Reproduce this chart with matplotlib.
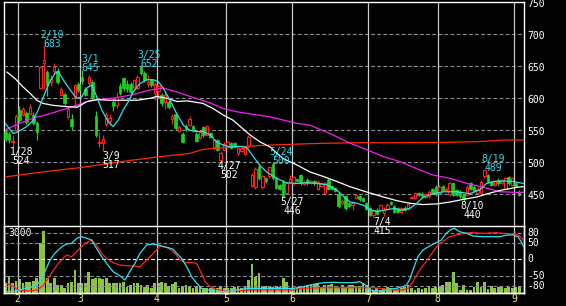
import matplotlib
matplotlib.use("Agg")
import matplotlib.pyplot as plt
import numpy as np

# ---------------- data ----------------
# daily candles (index 0 = first visible trading day, late January)
opens = [548, 545, 532, 550, 582, 574, 577, 576, 574, 561, 616, 655, 641, 625, 642, 642, 605, 606, 571, 567,
         600, 622, 634, 614, 624, 625, 572, 530, 530, 560, 565, 594, 590, 620, 631, 622, 623, 617, 616, 649,
         639, 622, 628, 609, 612, 605, 595, 595, 568, 576, 549, 545, 557, 558, 557, 545, 538, 555, 543, 546,
         524, 535, 504, 519, 524, 530, 530, 514, 518, 513, 525, 463, 461, 492, 462, 475, 478, 498, 475, 464,
         470, 452, 470, 467, 474, 480, 466, 473, 468, 471, 459, 463, 452, 473, 463, 460, 451, 436, 447, 436,
         433, 444, 447, 444, 436, 428, 418, 426, 426, 421, 427, 438, 431, 428, 423, 429, 427, 444, 445, 452,
         451, 446, 447, 458, 462, 452, 463, 457, 450, 467, 457, 454, 449, 449, 467, 462, 452, 452, 478, 480,
         469, 465, 473, 468, 458, 477, 465, 468, 454]
highs = [550, 547, 543, 576, 588, 586, 580, 591, 578, 564, 650, 683, 645, 636, 655, 647, 617, 608, 587, 575,
         623, 626, 645, 617, 637, 629, 580, 548, 543, 578, 575, 600, 610, 624, 634, 628, 626, 630, 636, 652,
         643, 636, 630, 626, 621, 608, 608, 597, 575, 578, 559, 547, 560, 572, 559, 547, 550, 557, 558, 548,
         537, 537, 517, 531, 533, 532, 532, 525, 525, 525, 542, 483, 492, 498, 480, 477, 494, 500, 477, 466,
         472, 469, 480, 479, 476, 482, 472, 475, 473, 473, 472, 469, 469, 476, 465, 462, 453, 442, 449, 438,
         440, 450, 449, 446, 438, 430, 427, 428, 435, 430, 436, 440, 433, 430, 430, 431, 437, 448, 454, 454,
         453, 452, 456, 460, 464, 464, 465, 461, 469, 469, 459, 456, 451, 464, 469, 464, 461, 472, 489, 482,
         471, 473, 475, 474, 477, 479, 477, 470, 456]
lows = [534, 530, 524, 548, 563, 572, 560, 574, 558, 535, 615, 615, 603, 620, 638, 622, 603, 590, 567, 550,
        587, 610, 622, 603, 620, 598, 540, 524, 517, 557, 558, 580, 585, 605, 612, 610, 606, 614, 613, 636,
        625, 618, 618, 598, 600, 588, 584, 583, 560, 551, 547, 530, 549, 556, 548, 531, 536, 540, 541, 538,
        520, 518, 502, 517, 522, 521, 522, 512, 516, 511, 523, 461, 459, 473, 459, 468, 476, 473, 458, 456,
        446, 450, 467, 465, 469, 465, 464, 465, 466, 465, 457, 461, 450, 457, 457, 453, 429, 434, 426, 430,
        425, 442, 440, 438, 425, 416, 415, 417, 424, 416, 425, 433, 421, 421, 421, 424, 425, 442, 443, 447,
        445, 444, 445, 450, 448, 450, 455, 455, 448, 447, 447, 445, 440, 447, 456, 453, 450, 450, 476, 468,
        463, 463, 465, 466, 456, 465, 463, 461, 447]
closes = [536, 535, 534, 572, 566, 583, 563, 587, 561, 548, 649, 660, 621, 630, 649, 626, 614, 592, 584, 556,
          621, 613, 627, 605, 633, 600, 543, 532, 536, 574, 570, 588, 602, 608, 616, 614, 610, 628, 634, 640,
          629, 626, 621, 623, 619, 592, 605, 586, 573, 553, 555, 532, 552, 568, 550, 533, 548, 542, 556, 540,
          535, 520, 515, 529, 531, 523, 524, 523, 523, 523, 540, 480, 490, 475, 478, 471, 492, 475, 460, 458,
          447, 467, 474, 477, 471, 467, 470, 467, 471, 467, 470, 467, 467, 459, 459, 455, 431, 440, 428, 432,
          437, 449, 442, 440, 427, 418, 425, 419, 433, 425, 433, 435, 423, 423, 428, 426, 435, 446, 452, 449,
          447, 450, 454, 452, 450, 462, 457, 459, 467, 449, 449, 447, 442, 462, 458, 455, 459, 470, 488, 470,
          465, 471, 467, 472, 475, 467, 475, 463, 449]
volumes = [420, 750, 420, 525, 600, 450, 495, 495, 540, 645, 2250, 2775, 645, 420, 645, 345, 345, 195, 420, 480,
           1020, 450, 420, 420, 945, 600, 645, 645, 600, 645, 420, 420, 450, 420, 495, 270, 345, 450, 420, 345,
           270, 345, 195, 420, 450, 495, 420, 300, 375, 495, 195, 300, 345, 300, 195, 300, 270, 225, 195, 225,
           195, 195, 270, 195, 225, 195, 270, 270, 195, 315, 570, 1275, 720, 870, 300, 300, 300, 270, 300, 270,
           645, 495, 195, 195, 195, 270, 270, 345, 345, 375, 420, 270, 345, 345, 390, 300, 195, 345, 270, 345,
           345, 300, 300, 420, 345, 195, 120, 195, 120, 195, 270, 195, 120, 150, 195, 270, 345, 195, 120, 195,
           150, 195, 270, 225, 270, 270, 345, 495, 495, 945, 420, 120, 345, 120, 120, 270, 495, 270, 495, 150,
           300, 195, 270, 270, 195, 270, 195, 270, 240]

# moving averages (day index, price)
ma_short_x = [0, 2.2, 3.7, 6.1, 8.0, 9.4, 10.9, 12.3, 14.2, 15.2, 16.6, 18.6, 20.5, 21.9, 23.4, 24.8, 26.3,
              27.7, 29.6, 31.0, 32.5, 33.9, 35.4, 36.8, 38.7, 40.7, 42.6, 44.0, 45.4, 47.4, 49.3, 51.2, 53.1,
              55.1, 57.0, 58.9, 60.8, 62.7, 64.7, 67.6, 69.5, 71.4, 73.3, 75.2, 78.1, 81.0, 83.9, 86.8, 89.7,
              92.5, 95.4, 97.3, 99.3, 101.2, 103.1, 105.0, 106.9, 109.8, 112.2, 113.7, 116.5, 118.5, 120.4,
              123.3, 126.1, 130.0, 133.8, 136.7, 138.6, 140.5, 143.4, 146.3, 149.2]
ma_short_v = [560, 545, 548, 556, 566, 582, 602, 621, 639, 642, 629, 613, 600, 602, 616, 621, 602, 582, 563,
              556, 566, 582, 595, 610, 623, 629, 629, 626, 616, 597, 576, 558, 550, 548, 548, 543, 532, 527,
              524, 525, 523, 509, 495, 485, 475, 468, 467, 468, 467, 465, 457, 447, 438, 436, 433, 426, 423,
              426, 428, 425, 428, 436, 446, 451, 454, 454, 451, 457, 467, 470, 471, 470, 467]
ma_mid_x = [0.4, 2.7, 5.0, 7.0, 9.0, 10.8, 13.7, 17.7, 20.6, 23.5, 26.3, 30.1, 37.9, 41.6, 43.6, 46.5, 49.4,
            52.3, 56.9, 59.8, 62.7, 65.5, 70.4, 73.3, 76.2, 79.9, 83.9, 87.7, 91.5, 95.5, 99.2, 102.1, 105.0,
            108.8, 112.8, 116.5, 120.3, 124.3, 128.1, 131.8, 135.9, 139.6, 143.3, 147.4, 149.1]
ma_mid_v = [641, 631, 618, 608, 597, 592, 589, 587, 586, 595, 598, 597, 597, 600, 603, 600, 595, 596, 592,
            584, 574, 566, 543, 532, 524, 506, 496, 485, 478, 470, 462, 457, 452, 446, 440, 436, 434, 435,
            438, 442, 446, 452, 457, 461, 462]
ma_long_x = [0, 4.1, 8.0, 12.8, 17.6, 20.5, 23.4, 27.2, 32.0, 36.8, 41.6, 45.4, 49.3, 53.1, 58.9, 62.7, 66.6,
             72.4, 76.2, 83.9, 87.7, 93.5, 99.2, 103.1, 108.8, 113.7, 118.5, 123.3, 128.1, 132.9, 137.7,
             142.5, 147.3, 149.2]
ma_long_v = [551, 561, 569, 576, 584, 589, 595, 598, 601, 606, 613, 616, 610, 603, 593, 584, 579, 574, 571,
             561, 558, 545, 530, 522, 509, 501, 490, 480, 475, 467, 461, 454, 453, 453]
ma_vlong_x = [0.3, 6.1, 12.8, 21.4, 30.1, 36.8, 44.5, 53.1, 56.9, 66.6, 76.2, 90.6, 102.1, 108.8, 127.1,
              135.8, 143.4, 149.2]
ma_vlong_v = [477.5, 481.7, 486.4, 491.6, 498.4, 503.6, 508.8, 514.0, 520.2, 524.4, 527.0, 529.6, 530.7,
              530.5, 531.2, 532.2, 534.8, 534.8]

# oscillator (lower panel)
osc_fast_x = [0.3, 3.2, 5.6, 8.0, 9.4, 10.9, 12.8, 14.2, 16.2, 17.6, 19.0, 20.5, 21.9, 23.4, 24.8, 26.2, 27.7,
              29.1, 31.0, 33.0, 34.4, 35.8, 37.3, 38.7, 40.7, 42.6, 44.0, 45.5, 46.9, 48.3, 49.3, 50.7, 52.2,
              53.6, 55.1, 56.5, 58.4, 61.8, 65.6, 69.5, 73.3, 79.9, 82.8, 85.7, 88.6, 91.5, 94.4, 97.2, 100.1,
              102.0, 103.0, 104.4, 104.9, 106.8, 108.8, 110.7, 112.6, 114.5, 115.5, 116.4, 117.4, 118.8, 120.3,
              122.2, 124.1, 125.6, 127.0, 128.4, 129.4, 130.8, 132.8, 134.7, 137.6, 140.4, 142.4, 144.3, 146.2,
              147.7, 148.6, 149.3]
osc_fast_v = [-97, -94, -87, -82, -72, -47, -2, 18, 38, 46, 48, 63, 68, 63, 58, 33, 8, -12, -37, -50, -62, -37,
              -12, 18, 43, 46, 43, 38, 35, 30, 18, 3, -22, -52, -72, -87, -92, -97, -94, -87, -87, -87, -87, -82,
              -75, -70, -69, -70, -70, -67, -72, -82, -92, -94, -95, -89, -87, -82, -77, -62, -32, 8, 28, 40,
              50, 58, 78, 90, 93, 83, 78, 70, 68, 68, 68, 73, 73, 68, 53, 38]
osc_slow_x = [0.3, 2.2, 4.2, 8.0, 9.4, 10.9, 12.3, 13.8, 15.2, 16.6, 17.6, 19.0, 20.0, 21.4, 22.9, 24.8, 26.2,
              27.7, 29.1, 31.0, 33.0, 34.9, 36.8, 38.7, 40.2, 41.6, 43.5, 44.5, 45.9, 47.4, 48.8, 50.3, 51.7,
              53.6, 55.1, 56.0, 57.5, 58.9, 60.8, 62.7, 67.6, 69.5, 79.9, 82.8, 85.7, 91.5, 99.2, 105.9, 107.8,
              109.7, 112.6, 114.5, 116.0, 117.4, 119.3, 121.2, 123.2, 124.6, 126.0, 128.0, 129.9, 132.3, 133.3,
              134.7, 137.6, 141.4, 143.4, 146.2, 147.7, 148.6, 149.3]
osc_slow_v = [-72, -82, -94, -94, -90, -77, -57, -32, -12, 3, 13, 8, 18, 33, 48, 58, 43, 18, 3, -10, -17, -19,
              -20, -22, -7, 8, 28, 40, 38, 30, 18, -2, -10, -10, -12, -32, -67, -82, -90, -94, -94, -92, -92,
              -92, -87, -85, -85, -85, -87, -90, -92, -92, -87, -67, -32, -7, 23, 43, 53, 68, 73, 78, 80, 80,
              78, 80, 78, 76, 73, 66, 56]

# peak / trough annotations: (label, value, day index)
peak_labels = [("2/10", 683, 11), ("3/1", 645, 22), ("3/25", 652, 39), ("5/24", 500, 77), ("8/19", 489, 138)]
trough_labels = [("1/28", 524, 2), ("3/9", 517, 28), ("4/27", 502, 62), ("5/27", 446, 80),
                 ("7/4", 415, 106), ("8/10", 440, 132)]

month_pos = [3.5, 21.5, 43.5, 63.5, 82.5, 104.5, 124.5, 146.5]
month_labels = ["2", "3", "4", "5", "6", "7", "8", "9"]
price_ticks = [750, 700, 650, 600, 550, 500, 450]
osc_ticks = [80, 50, 0, -50, -80]

# ---------------- style ----------------
BG = "black"
UP = "#ff2020"
DOWN = "#22d022"
CYAN = "#30e0f0"
MAG = "#f020f0"
GRID = "#8c8c8c"
VGRID = "#c8c8c8"
VOL = "#8cc63f"
XLAB = "#f0f080"
FONT = "DejaVu Sans Mono"
FS = 7

W, H = 566, 306
fig = plt.figure(figsize=(W / 100, H / 100), dpi=100, facecolor=BG)
L, R = 4, 524
TOP, MID, BOT = 2.3, 226, 292.7
axv = fig.add_axes([L / W, 1 - BOT / H, (R - L) / W, (BOT - MID) / H])
ax2 = fig.add_axes([L / W, 1 - BOT / H, (R - L) / W, (BOT - MID) / H], sharex=axv)
ax = fig.add_axes([L / W, 1 - MID / H, (R - L) / W, (MID - TOP) / H], sharex=axv)
axv.set_zorder(1)
ax2.set_zorder(2)
ax.set_zorder(3)

n = len(closes)
idx = np.arange(n)
xmin, xmax = -0.46, 149.4

for a in (ax, axv, ax2):
    a.set_facecolor(BG)
    a.set_xlim(xmin, xmax)
    a.tick_params(left=False, right=False, bottom=False, top=False,
                  labelleft=False, labelright=False, labelbottom=False, labeltop=False)
    for s in a.spines.values():
        s.set_color("white")
        s.set_linewidth(1.0)
ax2.patch.set_alpha(0)
ax.set_ylim(400.5, 750)
ax2.set_ylim(-100, 100)
axv.set_ylim(0, 3000)
for a in (axv, ax2):
    a.spines["top"].set_visible(False)

# grid - main
for v in price_ticks[1:]:
    ax.axhline(v, color=GRID, lw=0.8, ls=(0, (3.5, 2)), zorder=1)
for m in month_pos:
    ax.axvline(m, color=VGRID, lw=0.9, zorder=1)
    ax2.axvline(m, color=VGRID, lw=0.9, zorder=1)

# candles
o = np.array(opens); c = np.array(closes); h = np.array(highs); lo = np.array(lows)
up = c >= o
col = np.where(up, UP, DOWN)
ax.vlines(idx, lo, h, colors=col, lw=0.9, zorder=2)
ax.bar(idx[up], c[up] - o[up], bottom=o[up], width=0.72, facecolor=BG, edgecolor=UP, linewidth=0.8, zorder=3)
ax.bar(idx[~up], o[~up] - c[~up], bottom=c[~up], width=0.72, facecolor=DOWN, edgecolor=DOWN, linewidth=0.5, zorder=3)

# moving averages
ax.plot(ma_vlong_x, ma_vlong_v, color="#ff2a00", lw=0.9, zorder=4)
ax.plot(ma_long_x, ma_long_v, color=MAG, lw=0.9, zorder=4)
ax.plot(ma_mid_x, ma_mid_v, color="white", lw=0.9, zorder=4)
ax.plot(ma_short_x, ma_short_v, color=CYAN, lw=0.9, zorder=4)

# annotations
for lab, val, k in peak_labels:
    ax.annotate(str(val), (k + 2.5, val), xytext=(0, -1.1), textcoords="offset points",
                ha="center", va="baseline", color=CYAN, fontsize=FS, family=FONT, zorder=6)
    ax.annotate(lab, (k + 2.5, val), xytext=(0, 5.2), textcoords="offset points",
                ha="center", va="baseline", color=CYAN, fontsize=FS, family=FONT, zorder=6)
for lab, val, k in trough_labels:
    ax.annotate(lab, (k + 2.5, val), xytext=(0, -5.8), textcoords="offset points",
                ha="center", va="baseline", color="white", fontsize=FS, family=FONT, zorder=6,
                annotation_clip=False)
    ax.annotate(str(val), (k + 2.5, val), xytext=(0, -12.2), textcoords="offset points",
                ha="center", va="baseline", color="white", fontsize=FS, family=FONT, zorder=6,
                annotation_clip=False)

# right price labels
for v in price_ticks:
    ax.annotate(str(v), (1, v), xycoords=("axes fraction", "data"), xytext=(2.2, -1.2),
                textcoords="offset points", ha="left", va="center", color="white",
                fontsize=FS, family=FONT, annotation_clip=False)

# volume
axv.bar(idx, volumes, width=0.8, color=VOL, zorder=2)
axv.text(4.3 / (R - L), 1 - 2.0 / (BOT - MID), "3000", transform=axv.transAxes, ha="left", va="top",
         color="white", fontsize=FS, family=FONT, zorder=5)

# oscillator panel
for v in osc_ticks:
    ax2.axhline(v, color=("white" if v == 0 else GRID), lw=0.8, ls=(0, (3.5, 2)), zorder=3)
    ax2.annotate(str(v), (1, v), xycoords=("axes fraction", "data"), xytext=(2.2, 0),
                 textcoords="offset points", ha="left", va="center", color="white",
                 fontsize=FS, family=FONT, annotation_clip=False)
ax2.plot(osc_slow_x, osc_slow_v, color="#ff2020", lw=0.9, zorder=4)
ax2.plot(osc_fast_x, osc_fast_v, color=CYAN, lw=0.9, zorder=4)

for m, lab in zip(month_pos, month_labels):
    ax2.annotate(lab, (m, 0), xycoords=("data", "axes fraction"), xytext=(0, -4.6),
                 textcoords="offset points", ha="center", va="center", color=XLAB,
                 fontsize=FS, family=FONT, annotation_clip=False)

fig.savefig("out.png", dpi=100, facecolor=BG)
